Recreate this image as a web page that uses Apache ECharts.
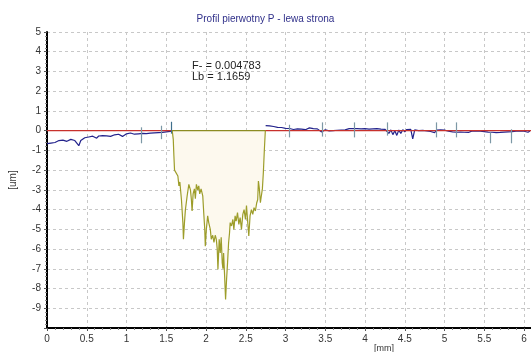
<!DOCTYPE html>
<html>
<head>
<meta charset="utf-8">
<script src="https://cdn.jsdelivr.net/npm/echarts@6/dist/echarts.min.js"></script>
<style>
  html, body { margin: 0; padding: 0; background: #fff; }
  #chart { width: 531px; height: 352px; }
</style>
</head>
<body>
<div id="chart"></div>
<script>
// Primary profile P, left side: surface height [um] against position [mm]
var titleText = 'Profil pierwotny P - lewa strona';
var statLines = ['F- = 0.004783', 'Lb = 1.1659'];

var xMin = 0, xMax = 6.0875, yMin = -10, yMax = 5;

// Profile left of the pit, sampled every 0.025 mm from 0 mm
var leftStart = 0, leftStep = 0.025;
var leftY = [-0.66, -0.60, -0.63, -0.54, -0.60, -0.52, -0.50, -0.58, -0.48, -0.45,
             -0.54, -0.57, -0.44, -0.40, -0.50, -0.60, -0.76, -0.50, -0.40, -0.36,
             -0.42, -0.32, -0.39, -0.28, -0.35, -0.38, -0.27, -0.33, -0.25, -0.34,
             -0.26, -0.22, -0.29, -0.32, -0.21, -0.27, -0.18, -0.26, -0.29, -0.19,
             -0.16, -0.24, -0.12, -0.10, -0.18, -0.09, -0.16, -0.07, -0.14, -0.08,
             -0.15, -0.06, -0.12, -0.05, -0.11, -0.04, -0.10, -0.03, -0.09, -0.02,
             -0.06, -0.01, -0.04, 0.00];

// Profile right of the pit, sampled every 0.025 mm from 2.75 mm
var rightStart = 2.75, rightStep = 0.025;
var rightY = [0.26, 0.18, 0.24, 0.15, 0.21, 0.12, 0.17, 0.10, 0.16, 0.07,
              0.12, 0.04, 0.11, 0.15, 0.06, 0.15, 0.09, 0.16, 0.08, 0.13,
              0.05, 0.12, 0.14, 0.04, 0.10, 0.01, 0.09, 0.00, -0.06, -0.12,
              0.04, 0.08, -0.01, 0.07, 0.00, 0.09, 0.02, 0.10, 0.03, 0.11,
              0.04, 0.02, 0.10, 0.03, 0.11, 0.04, 0.10, 0.02, 0.09, 0.03,
              0.10, 0.02, 0.08, 0.01, 0.09, 0.03, 0.10, 0.02, 0.08, 0.01,
              0.07, 0.00, -0.14, 0.04, -0.20, 0.00, -0.24, 0.03, -0.14, 0.05,
              -0.06, 0.06, -0.01, 0.07, -0.42, 0.04, 0.06, 0.00, 0.07, 0.01,
              0.06, -0.01, 0.05, -0.04, 0.04, -0.10, 0.03, -0.07, 0.04, -0.05,
              0.03, 0.05, -0.03, 0.03, -0.06, 0.00, -0.08, -0.01, -0.07, 0.00,
              -0.08, -0.02, -0.09, -0.03, -0.01, -0.08, -0.02, -0.10, -0.03, -0.12,
              -0.05, -0.14, -0.07, -0.16, -0.08, -0.18, -0.10, -0.20, -0.09, -0.17,
              -0.07, -0.15, -0.06, -0.14, -0.05, -0.12, -0.03, -0.10, -0.02, -0.09,
              -0.03, -0.01, -0.08, -0.02];

// Pit section (filled down from the zero line)
var pitX = [1.575, 1.588, 1.596, 1.604, 1.625, 1.646, 1.659, 1.671, 1.691, 1.709,
            1.716, 1.729, 1.741, 1.763, 1.784, 1.804, 1.816, 1.825, 1.838, 1.854,
            1.866, 1.879, 1.896, 1.909, 1.921, 1.938, 1.959, 1.971, 1.984, 1.991,
            2.004, 2.021, 2.034, 2.054, 2.066, 2.084, 2.100, 2.116, 2.129, 2.141,
            2.150, 2.166, 2.179, 2.191, 2.204, 2.213, 2.221, 2.234, 2.246, 2.259,
            2.271, 2.284, 2.296, 2.304, 2.321, 2.338, 2.350, 2.366, 2.379, 2.396,
            2.413, 2.429, 2.446, 2.463, 2.479, 2.496, 2.509, 2.525, 2.538, 2.554,
            2.571, 2.588, 2.604, 2.621, 2.638, 2.650, 2.659, 2.671, 2.684, 2.696,
            2.709, 2.721, 2.734, 2.746];
var pitY = [0.00, -0.44, -1.27, -2.00, -2.10, -2.30, -2.80, -2.60, -3.50, -4.66,
            -5.50, -4.66, -4.00, -3.30, -2.72, -3.00, -3.50, -4.07, -3.20, -2.95,
            -3.45, -2.72, -3.00, -2.80, -3.20, -2.95, -3.30, -4.15, -5.00, -5.85,
            -5.00, -4.32, -4.66, -5.00, -5.50, -5.30, -5.66, -5.30, -5.50, -6.00,
            -7.03, -5.50, -6.20, -5.40, -6.70, -7.00, -6.20, -7.37, -8.55, -7.50,
            -6.70, -5.68, -5.17, -4.66, -4.83, -4.50, -5.00, -4.32, -4.58, -4.15,
            -4.75, -4.40, -5.00, -4.24, -4.00, -4.50, -3.80, -4.66, -5.34, -4.32,
            -4.00, -4.24, -3.90, -4.07, -3.65, -3.50, -2.55, -2.95, -3.65, -3.30,
            -2.95, -2.13, -0.95, 0.00];

// Sampling-length markers along the profile
var markX   = [1.19, 1.44, 3.05, 3.46, 3.87, 4.275, 4.90, 5.15, 5.57, 5.84];
var markTop = [0.17, 0.25, 0.30, 0.42, 0.42, 0.42, 0.42, 0.42, -0.08, 0.07];
var markBot = [-0.64, -0.43, -0.34, -0.30, -0.34, -0.25, -0.34, -0.34, -0.64, -0.64];
var pitEdgeX = 1.565, pitEdgeTop = 0.45, pitEdgeBot = -0.15;

function sampled(start, step, ys) {
  return ys.map(function (y, i) { return [+(start + i * step).toFixed(4), y]; });
}
function paired(xs, ys) {
  return xs.map(function (x, i) { return [x, ys[i]]; });
}

var markLines = markX.map(function (x, i) {
  return [{ coord: [x, markTop[i]] }, { coord: [x, markBot[i]] }];
});
markLines.push([
  { coord: [pitEdgeX, pitEdgeTop], lineStyle: { color: '#3f6f8c' } },
  { coord: [pitEdgeX, pitEdgeBot] }
]);

var font = 'Liberation Sans, Arial, sans-serif';
var chart = echarts.init(document.getElementById('chart'), null, { renderer: 'canvas' });

chart.setOption({
  animation: false,
  backgroundColor: '#ffffff',
  title: {
    text: titleText,
    left: 'center',
    top: 9,
    textStyle: { color: '#30308a', fontSize: 10, fontWeight: 'normal', fontFamily: font }
  },
  grid: { left: 44, right: 0, top: 32, bottom: 24, containLabel: false },
  xAxis: {
    type: 'value',
    min: xMin, max: xMax, interval: 0.5,
    axisLine: { onZero: false, lineStyle: { color: '#000', width: 2 } },
    axisTick: { show: true, length: 3, lineStyle: { color: '#555' } },
    minorTick: { show: true, splitNumber: 5, length: 2, lineStyle: { color: '#888' } },
    axisLabel: { color: '#333', fontSize: 10, fontFamily: font, margin: 6, showMaxLabel: false },
    splitLine: { show: true, lineStyle: { color: '#c8c8c8', type: [3, 3], width: 1 } }
  },
  yAxis: {
    type: 'value',
    min: yMin, max: yMax, interval: 1,
    name: '[um]',
    nameLocation: 'middle',
    nameGap: 29,
    nameRotate: 90,
    nameTextStyle: { color: '#333', fontSize: 10, fontFamily: font },
    axisLine: { onZero: false, lineStyle: { color: '#000', width: 2 } },
    axisTick: { show: true, length: 3, lineStyle: { color: '#555' } },
    minorTick: { show: true, splitNumber: 5, length: 2, lineStyle: { color: '#888' } },
    axisLabel: { color: '#333', fontSize: 10, fontFamily: font, margin: 6, showMinLabel: false },
    splitLine: { show: true, lineStyle: { color: '#c8c8c8', type: [3, 3], width: 1 } }
  },
  graphic: [
    { type: 'text', left: 192, top: 60,
      style: { text: statLines[0], fill: '#222', fontSize: 11, fontFamily: font } },
    { type: 'text', left: 192, top: 71,
      style: { text: statLines[1], fill: '#222', fontSize: 11, fontFamily: font } },
    { type: 'text', left: 374, top: 344,
      style: { text: '[mm]', fill: '#333', fontSize: 9, fontFamily: font } }
  ],
  series: [
    {
      name: 'profile-left', type: 'line', showSymbol: false, z: 2,
      data: sampled(leftStart, leftStep, leftY),
      lineStyle: { color: '#23238c', width: 1.2 }
    },
    {
      name: 'profile-right', type: 'line', showSymbol: false, z: 2,
      data: sampled(rightStart, rightStep, rightY),
      lineStyle: { color: '#23238c', width: 1.2 }
    },
    {
      name: 'zero', type: 'line', showSymbol: false, z: 3,
      data: [[xMin, 0], [xMax, 0]],
      lineStyle: { color: '#c8312c', width: 1.2 },
      markLine: {
        silent: true, symbol: ['none', 'none'],
        label: { show: false },
        lineStyle: { color: '#7c98a6', width: 1.2, type: 'solid' },
        data: markLines
      }
    },
    {
      name: 'pit', type: 'line', showSymbol: false, z: 4,
      data: paired(pitX, pitY),
      lineStyle: { color: '#9d9d2a', width: 1.2 },
      areaStyle: { color: '#fdf9ee', opacity: 1 }
    },
    {
      name: 'pit-top', type: 'line', showSymbol: false, z: 5,
      data: [[pitX[0], 0], [pitX[pitX.length - 1], 0]],
      lineStyle: { color: '#8c8c22', width: 1.2 }
    }
  ]
});
</script>
</body>
</html>
